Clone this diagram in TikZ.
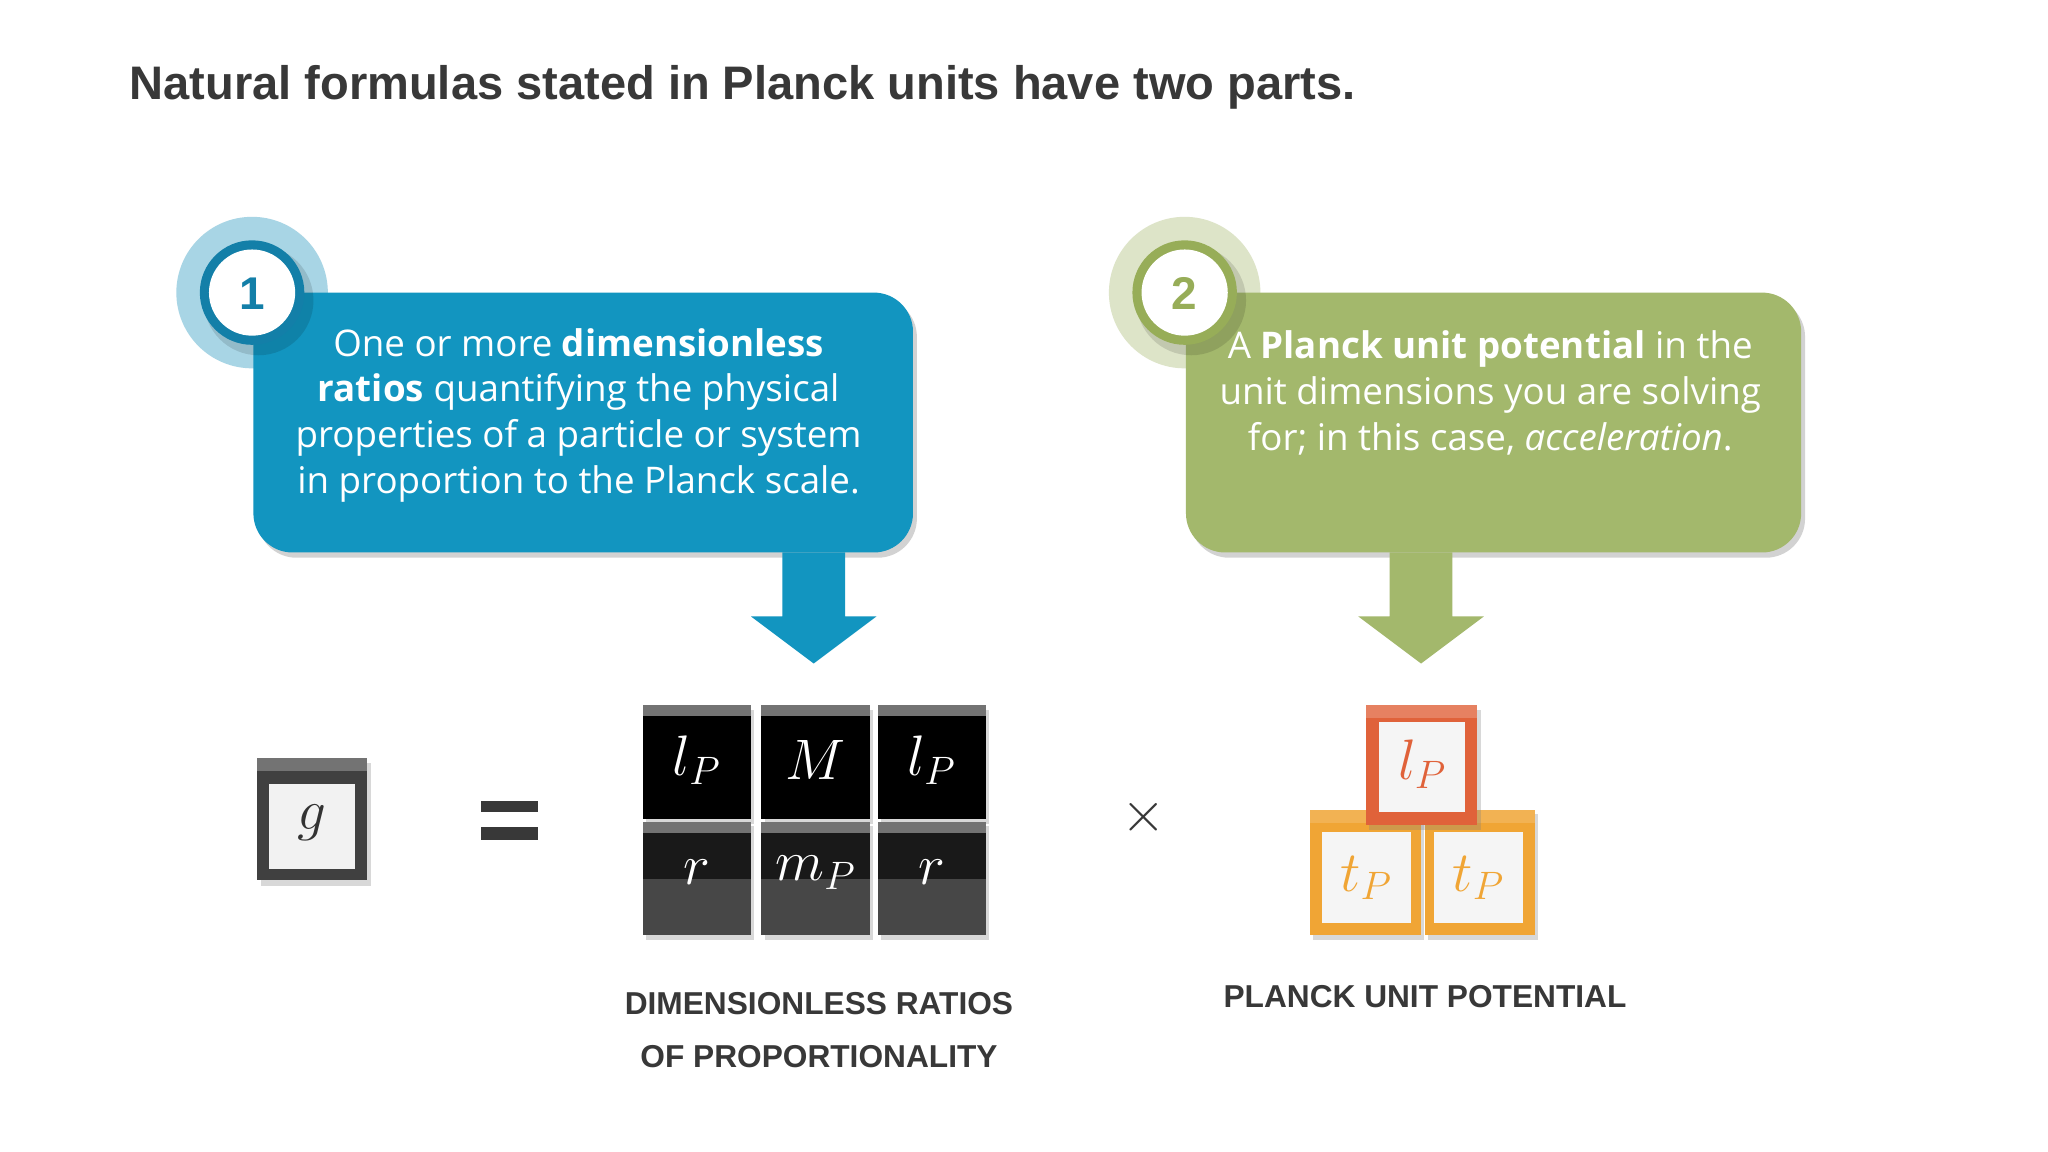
\documentclass[tikz,border=0pt]{standalone}
\usepackage{fontspec}
\setmainfont{Open Sans}
\newfontfamily\headfont{Liberation Sans}
\usetikzlibrary{shadows}
\definecolor{bluebox}{HTML}{1295C0}
\definecolor{bluehalo}{HTML}{A8D5E5}
\definecolor{bluering}{HTML}{137FA8}
\definecolor{greenbox}{HTML}{A3B86C}
\definecolor{greenhalo}{HTML}{DDE4C8}
\definecolor{greenring}{HTML}{97AD58}
\definecolor{txtgray}{HTML}{383838}
\definecolor{orangeA}{HTML}{E0623A}
\definecolor{orangeB}{HTML}{F0A535}
\begin{document}
\begin{tikzpicture}[x=0.02cm,y=-0.02cm,
  callout/.style={rounded corners=30*0.02cm, drop shadow={shadow xshift=0.06cm,shadow yshift=-0.08cm,opacity=0.35}},
  bodytxt/.style={text=white,font=\fontsize{16}{20}\selectfont,align=center},
  blk/.style={fill=black},
  blktxt/.style={text=white,font=\fontsize{26}{28}\selectfont},
  lab/.style={text=txtgray,font=\headfont\bfseries\fontsize{13.8}{16}\selectfont}]
\useasboundingbox (0,0) rectangle (1568,882);
\fill[white] (0,0) rectangle (1568,882);
\node[anchor=west,text=txtgray,font=\headfont\bfseries\fontsize{20.5}{24}\selectfont] (title) at (93,67) {Natural formulas stated in Planck units have two parts.};

% blue callout
\fill[bluehalo] (193,224) circle (58);
\fill[bluebox,callout] (194,224) rectangle (699,423);
\fill[black,opacity=0.12] (198,230) circle (42);
\fill[bluering] (193,224) circle (40);
\fill[white] (193,224) circle (33);
\node[text=bluering,font=\headfont\bfseries\fontsize{20}{20}\selectfont] (n1) at (193,225) {1};
\node[bodytxt] (t1) at (443,318) {One or more \textbf{dimensionless}\\ \textbf{ratios} quantifying the physical\\ properties of a particle or system\\ in proportion to the Planck scale.};
\fill[bluebox] (599,423) -- (647,423) -- (647,472) -- (671,472) -- (623,508) -- (575,472) -- (599,472) -- cycle;

% green callout
\fill[greenhalo] (907,224) circle (58);
\fill[greenbox,callout] (908,224) rectangle (1379,423);
\fill[black,opacity=0.12] (912,230) circle (42);
\fill[greenring] (907,224) circle (40);
\fill[white] (907,224) circle (33);
\node[text=greenring,font=\headfont\bfseries\fontsize{20}{20}\selectfont] (n2) at (907,225) {2};
\node[bodytxt] (t2) at (1141,301) {A \textbf{Planck unit potential} in the\\ unit dimensions you are solving\\ for; in this case, \textit{acceleration}.};
\fill[greenbox] (1064,423) -- (1112,423) -- (1112,472) -- (1136,472) -- (1088,508) -- (1040,472) -- (1064,472) -- cycle;

% g block
\fill[black!75,drop shadow={shadow xshift=0.06cm,shadow yshift=-0.08cm,opacity=0.3}] (197,580) rectangle (281,674);
\fill[black!55] (197,580) rectangle (281,590);
\fill[white!95!black] (206,600) rectangle (272,665);
\node[text=black!80,font=\fontsize{26}{28}\selectfont] (g) at (239,630) {$g$};

% equals and times
\fill[txtgray] (368,613) rectangle (412,622);
\fill[txtgray] (368,633) rectangle (412,643);
\node[text=txtgray,font=\headfont\bfseries\fontsize{40}{40}\selectfont] (times) at (876,626) {$\times$};

% dark blocks
\foreach \xa/\xb/\up/\dn [count=\i] in {492/575/{l_P}/r, 583/666/M/{m_P}, 672/755/{l_P}/r}{
  \fill[black,drop shadow={shadow xshift=0.05cm,shadow yshift=-0.07cm,opacity=0.3}] (\xa,540) rectangle (\xb,627);
  \fill[black!55] (\xa,540) rectangle (\xb,548);
  \fill[black!90,drop shadow={shadow xshift=0.05cm,shadow yshift=-0.07cm,opacity=0.3}] (\xa,629) rectangle (\xb,716);
  \fill[black!55] (\xa,629) rectangle (\xb,638);
  \fill[black!72] (\xa,673) rectangle (\xb,716);
  \node[blktxt] (u\i) at ({(\xa+\xb)/2},582) {$\up$};
  \node[blktxt] (d\i) at ({(\xa+\xb)/2},668) {$\dn$};
}

% orange blocks
\fill[orangeB,drop shadow={shadow xshift=0.05cm,shadow yshift=-0.07cm,opacity=0.3}] (1003,620) rectangle (1088,716);
\fill[orangeB!85!white] (1003,620) rectangle (1088,630);
\fill[white!96!black] (1012,637) rectangle (1080,707);
\fill[orangeB,drop shadow={shadow xshift=0.05cm,shadow yshift=-0.07cm,opacity=0.3}] (1091,620) rectangle (1175,716);
\fill[orangeB!85!white] (1091,620) rectangle (1175,630);
\fill[white!96!black] (1098,637) rectangle (1166,707);
\fill[orangeA,drop shadow={shadow xshift=0.05cm,shadow yshift=-0.07cm,opacity=0.3}] (1046,540) rectangle (1131,632);
\fill[orangeA!80!white] (1046,540) rectangle (1131,550);
\fill[white!96!black] (1056,553) rectangle (1122,622);
\node[text=orangeA,font=\fontsize{26}{28}\selectfont] (lp) at (1089,585) {$l_P$};
\node[text=orangeB,font=\fontsize{26}{28}\selectfont] (tp1) at (1046,672) {$t_P$};
\node[text=orangeB,font=\fontsize{26}{28}\selectfont] (tp2) at (1132,672) {$t_P$};

% labels
\node[lab] (l1) at (627,768) {DIMENSIONLESS RATIOS};
\node[lab] (l2) at (627,809) {OF PROPORTIONALITY};
\node[lab] (l3) at (1091,763) {PLANCK UNIT POTENTIAL};
\end{tikzpicture}
\end{document}
